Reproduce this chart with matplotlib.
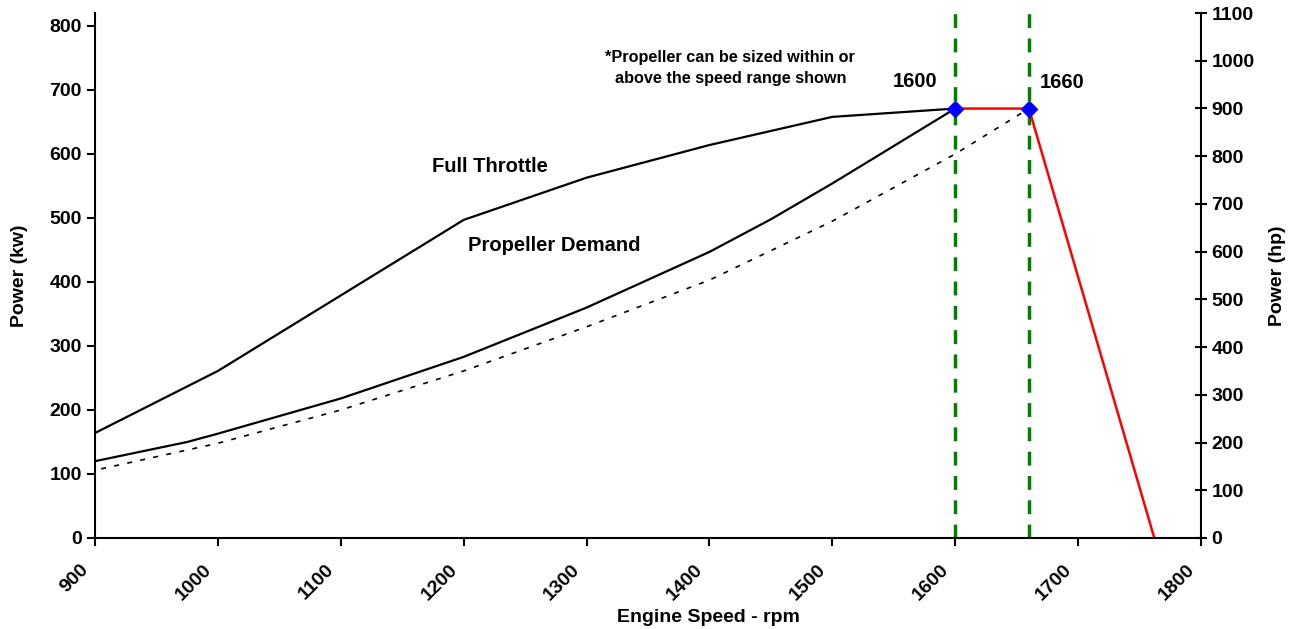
import numpy as np
import matplotlib.pyplot as plt
import matplotlib.transforms as mtrans

plt.rcParams['font.family'] = ['Liberation Sans', 'DejaVu Sans']
plt.rcParams['font.weight'] = 'bold'

# full throttle curve (kW)
ft_rpm = [900, 1000, 1200, 1300, 1400, 1500, 1600]
ft_kw = [164, 261, 497, 563, 614, 658, 671]

# propeller demand curve (kW)
pd_rpm = [900, 975, 1000, 1100, 1200, 1300, 1400, 1450, 1500, 1600]
pd_kw = [120, 150, 163, 218, 283, 360, 447, 498, 554, 671]

# alternative (dotted) propeller curve
alt_rpm = [905, 1000, 1100, 1200, 1300, 1400, 1500, 1600, 1660]
alt_kw = [108, 148, 200, 261, 330, 403, 495, 600, 671]

# governor line (red)
gov_rpm = [1600, 1660, 1762]
gov_kw = [671, 671, 0]

rated_rpm = [1600, 1660]
rated_kw = [671, 671]

HP_TO_KW = 0.7457

fig = plt.figure(figsize=(12.96, 6.29), dpi=100)
ax = fig.add_axes([0.0733, 0.1447, 0.8534, 0.8346])

ax.plot(ft_rpm, ft_kw, color='black', lw=1.6)
ax.plot(pd_rpm, pd_kw, color='black', lw=1.6)
ax.plot(alt_rpm, alt_kw, color='black', lw=1.2, ls=(0, (3, 5)))
ax.plot(gov_rpm, gov_kw, color='red', lw=1.8)
for r in rated_rpm:
    ax.axvline(r, color='green', lw=2.5, ls=(0, (4, 3)), zorder=1)
ax.plot(rated_rpm, rated_kw, ls='none', marker='D', ms=8, color='blue', zorder=5)

ax.set_xlim(900, 1800)
ax.set_ylim(0, 1100 * HP_TO_KW)
ax.set_xticks(np.arange(900, 1801, 100))
ax.set_yticks(np.arange(0, 801, 100))
ax.tick_params(axis='both', labelsize=14, length=6, width=1.5)
shift = mtrans.ScaledTranslation(-15 / 100, -10 / 100, fig.dpi_scale_trans)
for lab in ax.get_xticklabels():
    lab.set_rotation(45)
    lab.set_ha('right')
    lab.set_rotation_mode('anchor')
    lab.set_transform(lab.get_transform() + shift)
ax.spines['top'].set_visible(False)
ax.spines['right'].set_visible(False)
for s in ['left', 'bottom']:
    ax.spines[s].set_linewidth(1.5)

fig.text(708 / 1296, 11 / 629, 'Engine Speed - rpm', fontsize=14, fontweight='bold',
         ha='center', va='center')
ax.set_ylabel('Power (kw)', fontsize=14, fontweight='bold', va='center')
ax.yaxis.set_label_coords(-0.068, 0.5)

ax2 = ax.twinx()
ax2.set_ylim(0, 1100)
ax2.set_yticks(np.arange(0, 1101, 100))
ax2.tick_params(axis='y', labelsize=14, length=8, width=1.5, direction='inout')
ax2.spines['top'].set_visible(False)
ax2.spines['left'].set_visible(False)
ax2.spines['bottom'].set_visible(False)
ax2.spines['right'].set_linewidth(1.5)
ax2.set_ylabel('Power (hp)', fontsize=14, fontweight='bold', va='center')
ax2.yaxis.set_label_coords(1.0696, 0.5)

ax.text(1567, 714, '1600', fontsize=14.5, ha='center', va='center')
ax.text(1687, 711, '1660', fontsize=14.5, ha='center', va='center')
ax.text(1417, 734, '*Propeller can be sized within or\nabove the speed range shown',
        fontsize=11.7, ha='center', va='center', linespacing=1.5)
ax.text(1221, 581, 'Full Throttle', fontsize=14.5, ha='center', va='center')
ax.text(1274, 457, 'Propeller Demand', fontsize=14.5, ha='center', va='center')

fig.savefig('out.png', dpi=100)
